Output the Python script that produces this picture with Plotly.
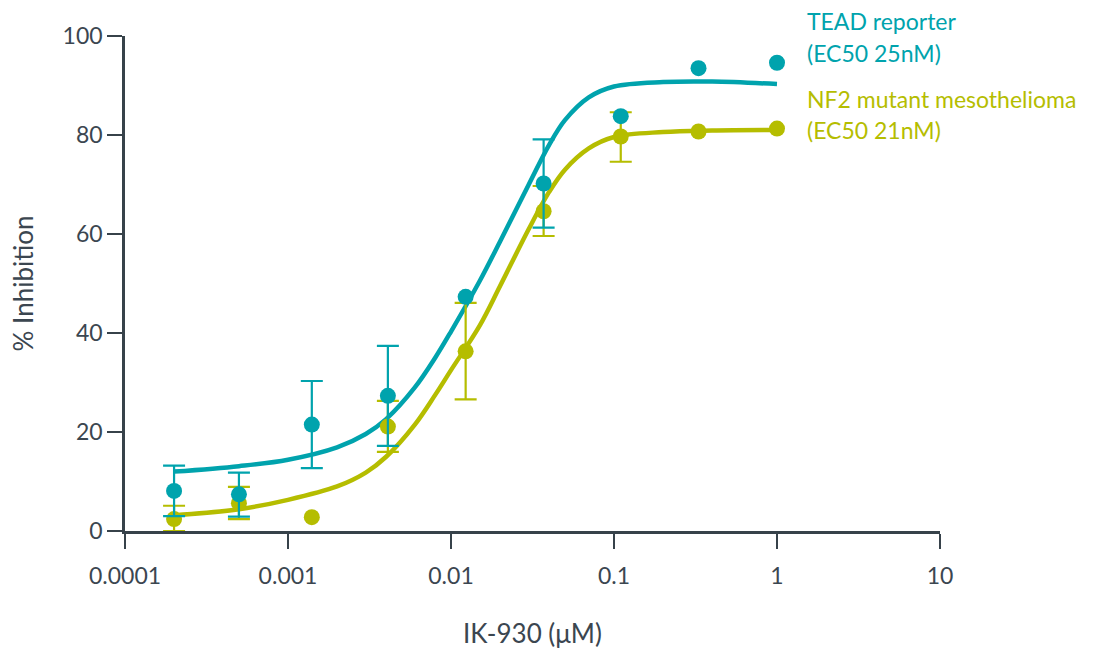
import plotly.graph_objects as go

# ---- data ----
conc = [0.0002, 0.0005, 0.0014, 0.0041, 0.0123, 0.037, 0.11, 0.33, 1.0]

tead_vals = [8.1, 7.4, 21.5, 27.3, 47.3, 70.2, 83.8, 93.5, 94.6]
tead_err_up = [5.1, 4.4, 8.8, 10.1, None, 8.9, None, None, None]
tead_err_dn = [5.1, 4.5, 8.8, 10.1, None, 8.9, None, None, None]

nf2_vals = [2.4, 5.6, 2.8, 21.1, 36.3, 64.6, 79.7, 80.7, 81.3]
nf2_err_up = [2.7, 3.3, None, 5.2, 9.8, 5.1, 4.9, None, None]
nf2_err_dn = [2.4, 3.2, None, 5.1, 9.7, 5.0, 5.1, None, None]

# fitted curves, read point-by-point from the picture
curve_x = [0.0002, 0.0005, 0.001, 0.002, 0.003, 0.004, 0.006, 0.008, 0.01,
           0.015, 0.02, 0.03, 0.04, 0.05, 0.07, 0.1, 0.2, 0.4, 1.0]
tead_curve = [12.0, 13.1, 14.4, 16.9, 19.6, 22.6, 29.0, 35.0, 40.3,
              50.5, 58.5, 70.0, 78.0, 83.0, 87.6, 89.8, 90.7, 90.8, 90.3]
nf2_curve = [3.2, 4.4, 6.3, 9.0, 11.8, 15.0, 21.5, 27.5, 32.5,
             41.5, 49.5, 61.0, 68.5, 73.0, 77.3, 79.6, 80.6, 80.9, 81.0]

x_ticks = [0.0001, 0.001, 0.01, 0.1, 1, 10]
x_tick_labels = ["0.0001", "0.001", "0.01", "0.1", "1", "10"]
y_ticks = [0, 20, 40, 60, 80, 100]

TEAL = "#00A3AD"
LIME = "#B5BD00"
AXIS = "#37424A"
TEXT = "#3B4650"
FONT = "Lato"


def with_err(xs, ys, up, dn):
    idx = [i for i in range(len(xs)) if up[i] is not None]
    return ([xs[i] for i in idx], [ys[i] for i in idx],
            [up[i] for i in idx], [dn[i] for i in idx])


fig = go.Figure()

fig.add_trace(go.Scatter(x=curve_x, y=tead_curve, mode="lines",
                         line=dict(color=TEAL, width=4.5, shape="spline"),
                         showlegend=False, hoverinfo="skip"))
fig.add_trace(go.Scatter(x=curve_x, y=nf2_curve, mode="lines",
                         line=dict(color=LIME, width=4.5, shape="spline"),
                         showlegend=False, hoverinfo="skip"))

for xs, ys, up, dn, col in [(conc, nf2_vals, nf2_err_up, nf2_err_dn, LIME),
                            (conc, tead_vals, tead_err_up, tead_err_dn, TEAL)]:
    ex, ey, eu, ed = with_err(xs, ys, up, dn)
    fig.add_trace(go.Scatter(
        x=ex, y=ey, mode="markers", marker=dict(size=1, opacity=0),
        error_y=dict(type="data", array=eu, arrayminus=ed, symmetric=False,
                     color=col, thickness=2.2, width=11),
        showlegend=False, hoverinfo="skip", cliponaxis=False))
    fig.add_trace(go.Scatter(
        x=xs, y=ys, mode="markers", marker=dict(color=col, size=16),
        showlegend=False, cliponaxis=False))

ann = [
    ("TEAD reporter", 1.030, TEAL),
    ("(EC50 25nM)", 0.966, TEAL),
    ("NF2 mutant mesothelioma", 0.873, LIME),
    ("(EC50 21nM)", 0.811, LIME),
]
for txt, yy, col in ann:
    fig.add_annotation(text=txt, xref="paper", yref="paper", x=0.834, y=yy,
                       xanchor="left", yanchor="middle", showarrow=False,
                       font=dict(family=FONT, size=23, color=col))

fig.update_layout(
    width=1099, height=654,
    margin=dict(l=125, r=159, t=36, b=123),
    plot_bgcolor="white", paper_bgcolor="white",
    font=dict(family=FONT, color=TEXT),
    xaxis=dict(type="log", range=[-4, 1], tickvals=x_ticks, ticktext=x_tick_labels,
               showgrid=False, zeroline=False, showline=True, linecolor=AXIS,
               linewidth=2.5, ticks="outside", ticklen=15, tickwidth=2.2,
               tickcolor=AXIS, tickfont=dict(size=23, color=TEXT),
               ticklabelstandoff=8, automargin=False,
               title=dict(text="IK-930 (μM)", font=dict(size=26, color=TEXT),
                          standoff=37)),
    yaxis=dict(range=[0, 100], tickvals=y_ticks, showgrid=False, zeroline=False,
               showline=True, linecolor=AXIS, linewidth=2.5, ticks="outside",
               ticklen=15, tickwidth=2.2, tickcolor=AXIS,
               tickfont=dict(size=23, color=TEXT), automargin=False,
               title=dict(text="% Inhibition", font=dict(size=26, color=TEXT),
                          standoff=22)),
)

fig.write_html("out.html")
